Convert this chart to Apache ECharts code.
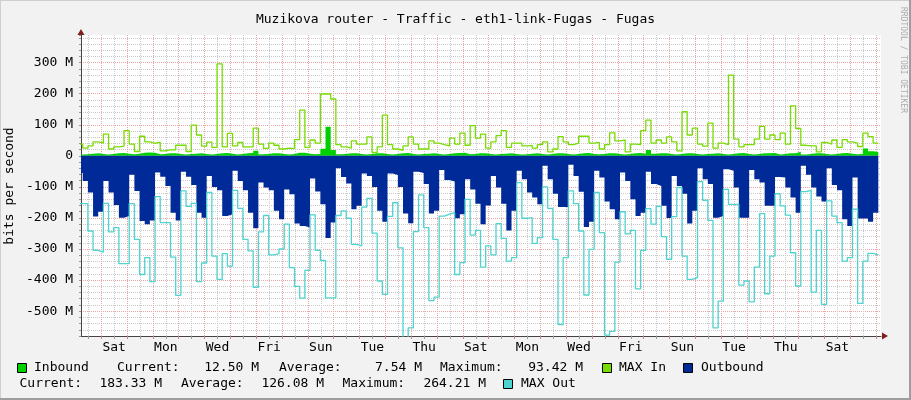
<!DOCTYPE html>
<html>
<head>
<meta charset="utf-8">
<title>Muzikova router - Traffic - eth1-link-Fugas - Fugas</title>
<script src="https://cdn.jsdelivr.net/npm/echarts@6/dist/echarts.min.js"></script>
<style>
  html, body { margin: 0; padding: 0; background: #f2f2f2; }
  #main { width: 911px; height: 400px; }
</style>
</head>
<body>
<div id="main"></div>
<script>
// time is counted in hours from the first Friday 00:00
// one value per 4.8 h bucket, first bucket starts Fri 02:00
var bucketStart = 2;
var bucketHours = 4.8;

// Inbound, M bits/s (5 buckets per day)
var inbound = [
  4,5,7,8,6,  4,6,8,9,7,  5,7,10,11,10,  5,6,8,8,6,  4,6,7,8,6,
  4,6,8,9,7,  4,6,8,9,16,  5,6,8,8,6,  4,6,10,10,7,  5,6,23,93.42,19,
  5,6,8,8,6,  4,6,8,8,6,  4,6,8,9,6,  4,6,7,8,6,  4,6,8,9,10,
  5,6,8,8,6,  4,6,7,8,6,  4,5,7,8,6,  4,6,8,8,6,  4,6,8,9,6,
  5,6,8,8,6,  4,6,8,9,7,  19,7,8,8,6,  4,6,8,8,6,  4,6,7,8,6,
  4,6,8,9,6,  4,6,8,8,9,  4,6,8,8,13,  4,6,8,8,6,  4,6,8,9,7,
  5,6,24,15,12.5
];

// MAX In
var maxIn = [
  38,25,32,45,41,  70,22,29,31,81,  38,14,63,45,40,  44,16,19,19,34,  34,14,99,67,31,
  44,27,296,29,72,  32,43,29,29,89,  38,24,41,34,22,  25,23,52,147,27,  51,41,199,199,183,
  36,29,25,48,38,  38,61,11,29,131,  36,22,18,32,61,  38,22,22,48,41,  36,32,57,38,73,
  34,97,57,70,25,  45,65,81,27,41,  41,32,34,25,36,  45,13,22,62,45,  36,41,63,63,41,
  43,22,36,74,48,  51,13,38,36,81,  115,41,51,41,61,  45,16,142,67,89,  38,31,105,25,41,
  36,260,54,29,36,  36,54,95,54,67,  52,73,38,161,88,  34,32,32,13,43,  38,51,27,52,45,
  41,30,73,62,41
];

// Outbound (drawn below zero)
var outbound = [
  -55,-81,-118,-195,-180,  -81,-118,-158,-199,-194,  -61,-113,-210,-220,-208,  -54,-67,-97,-183,-208,  -51,-67,-94,-183,-199,
  -65,-100,-111,-194,-188,  -48,-81,-111,-183,-233,  -86,-102,-111,-177,-204,  -108,-124,-218,-226,-231,  -73,-115,-156,-264.21,-215,
  -40,-68,-89,-172,-161,  -57,-65,-100,-177,-212,  -57,-62,-100,-186,-217,  -51,-55,-91,-186,-177,  -46,-78,-83,-201,-188,
  -75,-108,-154,-220,-160,  -65,-102,-154,-240,-177,  -48,-75,-118,-134,-156,  -32,-75,-122,-165,-165,  -29,-65,-116,-229,-212,
  -48,-70,-147,-172,-204,  -54,-81,-140,-194,-183,  -51,-91,-97,-161,-200,  -65,-97,-122,-218,-177,  -40,-75,-91,-199,-194,
  -43,-48,-102,-199,-199,  -46,-75,-86,-161,-161,  -68,-70,-102,-134,-183,  -32,-61,-102,-131,-147,  -40,-94,-111,-204,-226,
  -70,-202,-202,-212,-183.33
];

// MAX Out (drawn below zero)
var maxOut = [
  -154,-154,-242,-304,-310,  -153,-245,-231,-347,-347,  -154,-269,-382,-328,-405,  -131,-215,-215,-326,-449,  -113,-163,-153,-405,-345,
  -118,-323,-398,-315,-355,  -111,-169,-269,-306,-423,  -245,-192,-319,-315,-300,  -220,-360,-420,-458,-369,  -190,-304,-337,-457,-457,
  -192,-177,-201,-285,-290,  -165,-137,-249,-403,-446,  -195,-151,-296,-600,-554,  -244,-126,-231,-466,-455,  -194,-188,-183,-382,-344,
  -140,-255,-240,-358,-290,  -319,-218,-266,-339,-328,  -86,-201,-199,-282,-263,  -100,-169,-269,-543,-328,  -113,-154,-242,-448,-301,
  -118,-247,-577,-565,-342,  -180,-251,-240,-428,-304,  -170,-220,-163,-260,-333,  -196,-102,-323,-398,-392,  -83,-143,-208,-554,-468,
  -108,-156,-156,-416,-403,  -470,-358,-186,-444,-323,  -122,-161,-191,-312,-419,  -115,-111,-439,-240,-478,  -145,-194,-215,-339,-328,
  -172,-475,-339,-314,-319
];

// x labels sit on the noon of every second day, starting Sat
var dayLabels = ['Sat','Mon','Wed','Fri','Sun','Tue','Thu','Sat','Mon','Wed','Fri','Sun','Tue','Thu','Sat'];
var yMajor = [-500,-400,-300,-200,-100,0,100,200,300];

var inStats = ['12.50 M', '7.54 M', '93.42 M'];
var outStats = ['183.33 M', '126.08 M', '264.21 M'];

var tStart = 5.2, tEnd = 748.5;
var MONO = '"DejaVu Sans Mono", "Liberation Mono", monospace';
var GRID = '#c9c9c9', MGRID = '#efa4a4';
var C_IN = '#00cf00', C_MAXIN = '#78dc00', C_OUT = '#002a97', C_MAXOUT = '#4ed3d0';

function steps(values) {
  var pts = values.map(function (v, i) { return [bucketStart + i * bucketHours, v]; });
  pts.push([bucketStart + values.length * bucketHours, values[values.length - 1]]);
  return pts;
}

var noonTicks = [], dayTicks = [], labelTicks = [];
for (var h = 12; h < tEnd; h += 24) noonTicks.push(h);
for (var d = 24; d < tEnd; d += 24) dayTicks.push(d);
for (var i = 0; i < dayLabels.length; i++) labelTicks.push(36 + 48 * i);

var chart = echarts.init(document.getElementById('main'));

function txt(x, y, s, align) {
  return { type: 'text', x: x, y: y, silent: true,
    style: { text: s, font: '13px ' + MONO, fill: '#000', align: align || 'left', verticalAlign: 'middle' } };
}
function box(x, y, color) {
  return { type: 'rect', silent: true, shape: { x: x, y: y, width: 9, height: 9 },
    style: { fill: color, stroke: '#000', lineWidth: 1 } };
}

var option = {
  animation: false,
  backgroundColor: '#f2f2f2',
  title: {
    text: 'Muzikova router - Traffic - eth1-link-Fugas - Fugas',
    left: 'center', top: 8,
    textStyle: { fontFamily: MONO, fontSize: 13, fontWeight: 'normal', color: '#000' }
  },
  grid: { left: 81, top: 35, width: 800, height: 301, show: true, backgroundColor: '#fff', borderWidth: 0 },
  xAxis: [
    {
      type: 'value', min: tStart, max: tEnd,
      axisLine: { onZero: false, lineStyle: { color: '#444', width: 1 } },
      axisTick: { show: true, length: 3, customValues: noonTicks, lineStyle: { color: '#999' } },
      axisLabel: {
        customValues: labelTicks,
        formatter: function (v) { return dayLabels[Math.round((v - 36) / 48)]; },
        fontFamily: MONO, fontSize: 13, color: '#000', margin: 5
      },
      splitLine: { show: true, lineStyle: { color: GRID, width: 1, type: [1, 1] } }
    },
    {
      type: 'value', min: tStart, max: tEnd, position: 'bottom',
      axisLine: { show: false, onZero: false },
      axisTick: { show: true, length: 3, customValues: dayTicks, lineStyle: { color: '#d08080' } },
      axisLabel: { show: false },
      splitLine: { show: true, lineStyle: { color: MGRID, width: 1, type: [1, 1] } }
    }
  ],
  yAxis: [
    {
      type: 'value', min: -580, max: 389, interval: 20,
      axisLine: { show: true, onZero: false, lineStyle: { color: '#444', width: 1 } },
      axisTick: { show: true, length: 2, lineStyle: { color: '#999' } },
      axisLabel: {
        customValues: yMajor,
        formatter: function (v) { return v === 0 ? '0' : v + ' M'; },
        fontFamily: MONO, fontSize: 13, color: '#000', margin: 8
      },
      splitLine: { show: true, showMaxLine: false, lineStyle: { color: GRID, width: 1, type: [1, 1] } }
    },
    {
      type: 'value', min: -580, max: 389, position: 'left',
      axisLine: { show: false },
      axisTick: { show: false, customValues: yMajor },
      axisLabel: { show: false },
      splitLine: { show: true, lineStyle: { color: MGRID, width: 1, type: [1, 1] } }
    }
  ],
  series: [
    { name: 'Inbound', type: 'line', step: 'end', data: steps(inbound), symbol: 'none',
      lineStyle: { width: 0 }, areaStyle: { color: C_IN, opacity: 1 }, z: 2 },
    { name: 'Outbound', type: 'line', step: 'end', data: steps(outbound), symbol: 'none',
      lineStyle: { width: 0 }, areaStyle: { color: C_OUT, opacity: 1 }, z: 2 },
    { name: 'MAX In', type: 'line', step: 'end', data: steps(maxIn), symbol: 'none',
      lineStyle: { color: C_MAXIN, width: 1.3 }, z: 3 },
    { name: 'MAX Out', type: 'line', step: 'end', data: steps(maxOut), symbol: 'none',
      lineStyle: { color: C_MAXOUT, width: 1.3 }, z: 3 }
  ],
  graphic: [
    // frame
    { type: 'rect', silent: true, shape: { x: 0, y: 0, width: 911, height: 1 }, style: { fill: '#cfcfcf' } },
    { type: 'rect', silent: true, shape: { x: 0, y: 0, width: 1, height: 400 }, style: { fill: '#cfcfcf' } },
    { type: 'rect', silent: true, shape: { x: 909, y: 0, width: 2, height: 400 }, style: { fill: '#9e9e9e' } },
    { type: 'rect', silent: true, shape: { x: 0, y: 398, width: 911, height: 2 }, style: { fill: '#9e9e9e' } },
    // axis arrows
    { type: 'polygon', silent: true, shape: { points: [[77.5, 35], [84.5, 35], [81, 29]] }, style: { fill: '#801f1f' } },
    { type: 'polygon', silent: true, shape: { points: [[882, 332.5], [882, 339.5], [888, 336]] }, style: { fill: '#801f1f' } },
    // vertical texts
    { type: 'text', x: 9.5, y: 186, rotation: Math.PI / 2, silent: true,
      style: { text: 'bits per second', font: '13px ' + MONO, fill: '#000', align: 'center', verticalAlign: 'middle' } },
    { type: 'text', x: 903, y: 60, rotation: -Math.PI / 2, silent: true,
      style: { text: 'RRDTOOL / TOBI OETIKER', font: '8px ' + MONO, fill: '#adadad', align: 'center', verticalAlign: 'middle' } },
    // legend row 1
    box(17.5, 363.5, C_IN),
    txt(34, 368, 'Inbound'),
    txt(117, 368, 'Current:'),
    txt(259, 368, inStats[0], 'right'),
    txt(279, 368, 'Average:'),
    txt(422, 368, inStats[1], 'right'),
    txt(440, 368, 'Maximum:'),
    txt(583, 368, inStats[2], 'right'),
    box(602.5, 363.5, C_MAXIN),
    txt(619, 368, 'MAX In'),
    box(683.5, 363.5, C_OUT),
    txt(701, 368, 'Outbound'),
    // legend row 2
    txt(19.5, 384, 'Current:'),
    txt(162, 384, outStats[0], 'right'),
    txt(181, 384, 'Average:'),
    txt(324, 384, outStats[1], 'right'),
    txt(342.5, 384, 'Maximum:'),
    txt(486, 384, outStats[2], 'right'),
    box(503.5, 379.5, C_MAXOUT),
    txt(521, 384, 'MAX Out')
  ]
};

chart.setOption(option);
</script>
</body>
</html>
